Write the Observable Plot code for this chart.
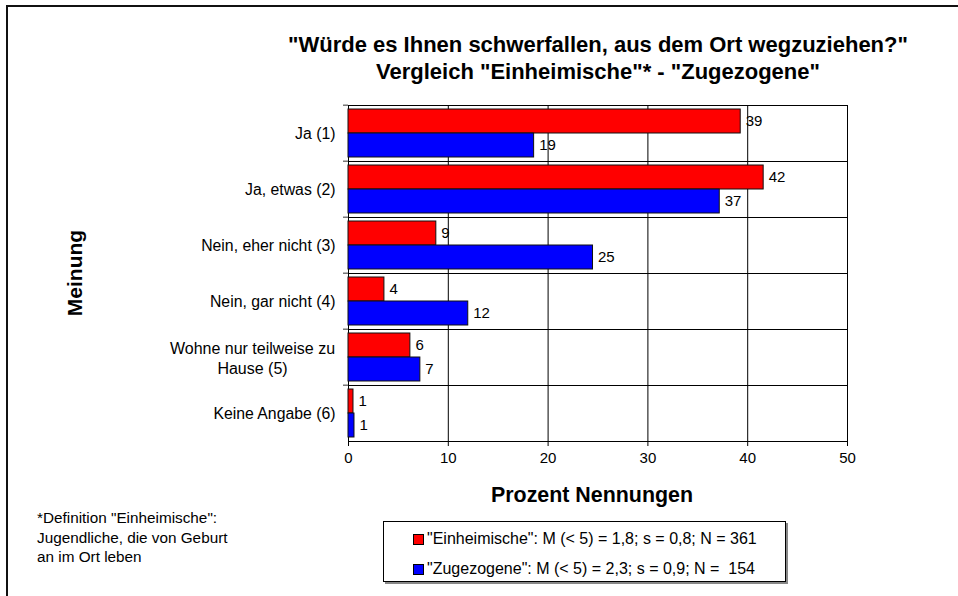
<!DOCTYPE html>
<html>
<head>
<meta charset="utf-8">
<script src="https://cdn.jsdelivr.net/npm/d3@7"></script>
<script src="https://cdn.jsdelivr.net/npm/@observablehq/plot@0.6"></script>
<style>
  html, body { margin: 0; padding: 0; background: #fff; }
  #wrap { position: relative; width: 958px; height: 596px; overflow: hidden; font-family: "Liberation Sans", Arial, sans-serif; color: #000; }
  #chart { position: absolute; left: 0; top: 0; }
  #border { position: absolute; left: 6px; top: 5px; width: 1000px; height: 700px; border-left: 2px solid #111; border-top: 2px solid #111; box-sizing: border-box; }
  #title { position: absolute; left: 248px; width: 700px; top: 31px; text-align: center; font-weight: bold; font-size: 22px; line-height: 27px; }
  #ylabel { position: absolute; left: 75px; top: 273px; transform: translate(-50%, -50%) rotate(-90deg); font-weight: bold; font-size: 21px; white-space: nowrap; }
  #xlabel { position: absolute; left: 592px; top: 495px; transform: translate(-50%, -50%); font-weight: bold; font-size: 21.4px; white-space: nowrap; }
  #note { position: absolute; left: 37px; top: 508px; font-size: 15.3px; line-height: 19.5px; }
  #legend { position: absolute; left: 383px; top: 521px; width: 403px; height: 61px; border: 1px solid #000; box-sizing: border-box; box-shadow: 2px 2px 0 #888; font-size: 16px; }
  .row { position: absolute; left: 29px; white-space: nowrap; display: flex; align-items: center; }
  .sw { width: 9px; height: 9px; border: 1px solid #000; margin-right: 3px; }
</style>
</head>
<body>
<div id="wrap">
  <div id="border"></div>
  <div id="chart"></div>
  <div id="title"></div>
  <div id="ylabel"></div>
  <div id="xlabel"></div>
  <div id="note"></div>
  <div id="legend"></div>
</div>
<script>
const categories = ["Ja (1)", "Ja, etwas (2)", "Nein, eher nicht (3)", "Nein, gar nicht (4)", "Wohne nur teilweise zu\nHause (5)", "Keine Angabe (6)"];
const series = ["Einheimische", "Zugezogene"];
const einheimische = [39.3, 41.6, 8.8, 3.6, 6.2, 0.5];
const zugezogene = [18.6, 37.2, 24.5, 12.0, 7.2, 0.6];
const einheimischeLabels = ["39", "42", "9", "4", "6", "1"];
const zugezogeneLabels = ["19", "37", "25", "12", "7", "1"];
const xTicks = [0, 10, 20, 30, 40, 50];
const colors = ["#ff0000", "#0000ff"];
const titleLines = ["\"Würde es Ihnen schwerfallen, aus dem Ort wegzuziehen?\"", "Vergleich \"Einheimische\"* - \"Zugezogene\""];
const xTitle = "Prozent Nennungen";
const yTitle = "Meinung";
const noteLines = ["*Definition \"Einheimische\":", "Jugendliche, die von Geburt", "an im Ort leben"];
const legendLabels = ["\"Einheimische\": M (< 5) = 1,8; s = 0,8; N = 361", "\"Zugezogene\": M (< 5) = 2,3; s = 0,9; N =  154"];

const data = [];
categories.forEach((c, i) => {
  data.push({cat: c, series: series[0], value: einheimische[i], label: einheimischeLabels[i]});
  data.push({cat: c, series: series[1], value: zugezogene[i], label: zugezogeneLabels[i]});
});

const plot = Plot.plot({
  width: 958,
  height: 596,
  marginLeft: 348,
  marginRight: 111,
  marginTop: 103,
  marginBottom: 153,
  style: {fontFamily: "'Liberation Sans', Arial, sans-serif", fontSize: "15px", color: "#000", background: "transparent", overflow: "visible"},
  x: {domain: [0, 50], ticks: xTicks},
  fy: {domain: categories, padding: 0},
  y: {domain: series, paddingInner: 0, paddingOuter: 0.16, axis: null},
  color: {domain: series, range: colors},
  marks: [
    Plot.ruleX(xTicks.slice(1, -1), {stroke: "#000", strokeWidth: 1}),
    Plot.frame({stroke: "#000", strokeWidth: 1}),
    Plot.barX(data, {fy: "cat", y: "series", x: "value", fill: "series", stroke: "#111", strokeWidth: 1}),
    Plot.text(data, {fy: "cat", y: "series", x: "value", text: "label", dx: 5, textAnchor: "start", fontSize: 15}),
    Plot.text(categories.filter(d => !d.includes("\n")), {fy: d => d, frameAnchor: "left", dx: -13, textAnchor: "end", text: d => d, fontSize: 15.8}),
    Plot.text(categories.filter(d => d.includes("\n")), {fy: d => d, frameAnchor: "left", dx: -96, textAnchor: "middle", text: d => d, fontSize: 16, lineHeight: 1.25}),
    Plot.axisFy({anchor: "left", tickSize: 5, tickFormat: () => "", label: null, dy: -340 / 12, stroke: "#333"}),
    Plot.axisX({ticks: xTicks, tickSize: 5, tickPadding: 6, label: null, anchor: "bottom", fontSize: 15})
  ]
});
document.getElementById("chart").appendChild(plot);

document.getElementById("title").innerHTML = titleLines.map(t => `<div>${t.replace(/</g, "&lt;")}</div>`).join("");
document.getElementById("ylabel").textContent = yTitle;
document.getElementById("xlabel").textContent = xTitle;
document.getElementById("note").innerHTML = noteLines.map(t => `<div>${t}</div>`).join("");
const leg = document.getElementById("legend");
legendLabels.forEach((t, i) => {
  const row = document.createElement("div");
  row.className = "row";
  row.style.top = (i === 0 ? 8 : 38) + "px";
  const sw = document.createElement("span");
  sw.className = "sw";
  sw.style.background = colors[i];
  const tx = document.createElement("span");
  tx.textContent = t;
  tx.style.whiteSpace = "pre";
  row.appendChild(sw);
  row.appendChild(tx);
  leg.appendChild(row);
});
</script>
</body>
</html>
